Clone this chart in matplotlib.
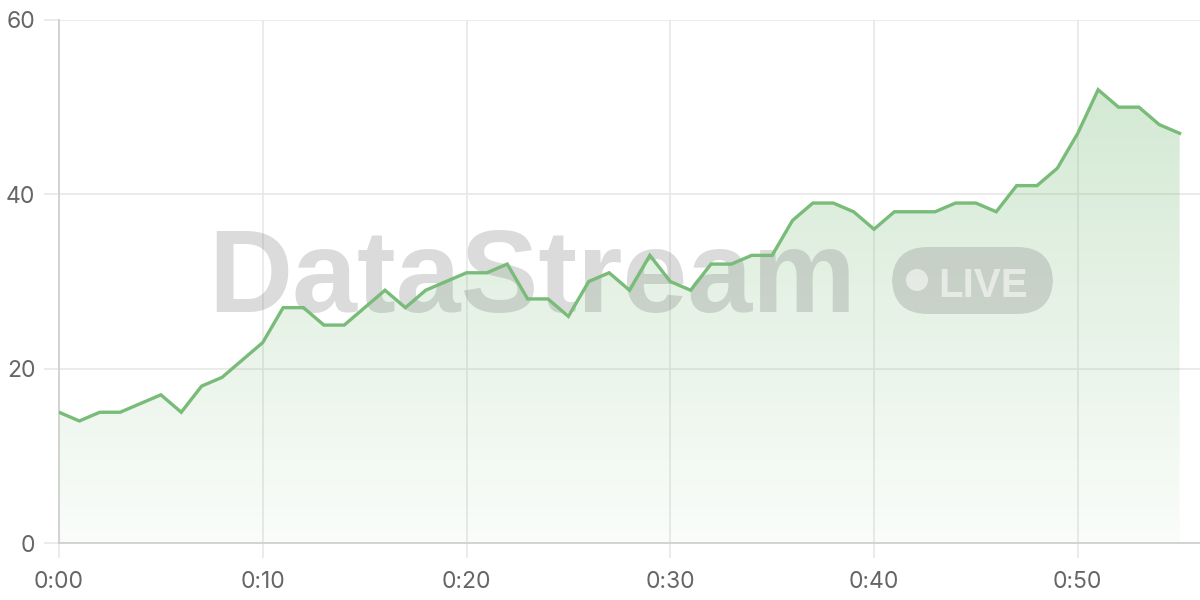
import numpy as np
import matplotlib
matplotlib.use("Agg")
import matplotlib.pyplot as plt
from matplotlib.patches import FancyBboxPatch, Circle
from matplotlib.colors import LinearSegmentedColormap

# seconds since start, one sample per second
seconds = list(range(56))
values = [15, 14, 15, 15, 16, 17, 15, 18, 19, 21,
          23, 27, 27, 25, 25, 27, 29, 27, 29, 30,
          31, 31, 32, 28, 28, 26, 30, 31, 29, 33,
          30, 29, 32, 32, 33, 33, 37, 39, 39, 38,
          36, 38, 38, 38, 39, 39, 38, 41, 41, 43,
          47, 52, 50, 50, 48, 47]
xticks = [0, 10, 20, 30, 40, 50]
xlabels = ["0:00", "0:10", "0:20", "0:30", "0:40", "0:50"]
yticks = [0, 20, 40, 60]

line_col = "#79bb78"
grid_col = "#e8e8e8"
text_col = "#666666"

plt.rcParams['font.family'] = ['Inter', 'DejaVu Sans']

fig = plt.figure(figsize=(12, 6), dpi=100)
ax = fig.add_axes([59 / 1200, 1 - 543 / 600, 1 - 59 / 1200, (543 - 20) / 600])
ax.set_xlim(0, 56)
ax.set_ylim(0, 60)

# gradient fill under the line
fill = ax.fill_between(seconds, values, 0, color="none", lw=0)
cmap = LinearSegmentedColormap.from_list("g", [(0.47, 0.73, 0.47, 0.04),
                                               (0.47, 0.73, 0.47, 0.32)])
grad = np.linspace(0, 1, 256).reshape(-1, 1)
im = ax.imshow(grad, cmap=cmap, aspect="auto", origin="lower",
               extent=[0, 55, 0, max(values)], zorder=1)
path = fill.get_paths()[0]
im.set_clip_path(path, transform=ax.transData)

ax.plot(seconds, values, color=line_col, lw=2.4, zorder=4,
        solid_joinstyle="miter")

# watermark
wm = (0.5, 0.5, 0.5, 0.28)
ax.text(208 / 1200, 1 - 312 / 600, "DataStream", transform=fig.transFigure,
        fontsize=84, fontweight="bold", family="Liberation Sans",
        color=wm, ha="left", va="baseline", zorder=3)
pill = FancyBboxPatch((892 / 1200, 1 - 314 / 600), 161 / 1200, 67 / 600,
                      boxstyle="round,pad=0,rounding_size=0.03",
                      transform=fig.transFigure, facecolor=wm,
                      edgecolor="none", zorder=3, mutation_aspect=2)
ax.add_patch(pill)
dot = Circle((917, 600 - 280), 11, transform=None, facecolor=(1, 1, 1, 0.55),
             edgecolor="none", zorder=3)
ax.add_patch(dot)
ax.text(938 / 1200, 1 - 297 / 600, "LIVE", transform=fig.transFigure,
        fontsize=29, fontweight="bold", family="Liberation Sans",
        color=(1, 1, 1, 0.55), ha="left", va="baseline", zorder=3)

ax.set_xticks(xticks)
ax.set_xticklabels(xlabels)
ax.set_yticks(yticks)
ax.grid(True, color=grid_col, lw=1.2, zorder=0)
ax.set_axisbelow(True)
ax.tick_params(axis="both", length=11, width=1.2, color=grid_col,
               labelcolor=text_col, labelsize=16.5)
ax.tick_params(axis="y", pad=6)
ax.tick_params(axis="x", pad=9)
for s in ["top", "right"]:
    ax.spines[s].set_visible(False)
for s in ["left", "bottom"]:
    ax.spines[s].set_color("#d0d0d0")
    ax.spines[s].set_linewidth(1.3)

fig.savefig("out.png", dpi=100)
